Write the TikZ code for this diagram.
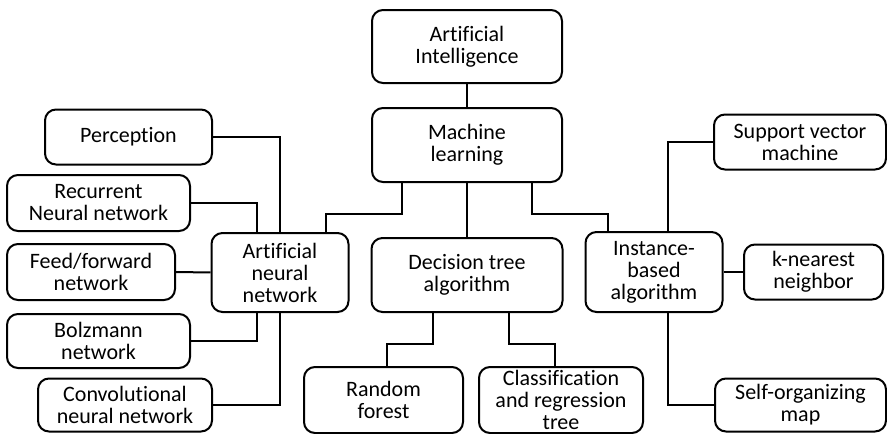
\documentclass[tikz,border=0pt]{standalone}
\usepackage{fontspec}
\setmainfont[Ligatures=NoCommon]{Carlito}
\begin{document}
\begin{tikzpicture}[x=1pt,y=-1pt,
  box/.style={draw, line width=2pt, rounded corners=11pt, align=center,
    inner sep=0pt, font=\fontsize{22}{22}\selectfont},
  link/.style={line width=2pt}]
\useasboundingbox (0,0) rectangle (887,434);
% top of the hierarchy
\node[box, minimum width=190pt, minimum height=73pt] (ai) at (467,46.5) {Artificial\\Intelligence};
\node[box, minimum width=190pt, minimum height=74pt] (ml) at (467,145) {Machine\\learning};
% three families of algorithms
\node[box, minimum width=137pt, minimum height=79pt] (ann) at (280,272.5) {Artificial\\neural\\network};
\node[box, minimum width=191pt, minimum height=74pt] (dt) at (467,275) {Decision tree\\algorithm};
\node[box, minimum width=137pt, minimum height=80pt] (ib) at (654,272) {Instance-\\based\\algorithm};
% neural networks
\node[box, minimum width=167pt, minimum height=55pt] (per) at (128.5,137) {Perception};
\node[box, minimum width=183pt, minimum height=56pt] (rnn) at (98.5,203) {Recurrent\\Neural network};
\node[box, minimum width=168pt, minimum height=56pt] (ff) at (91,272) {Feed/forward\\network};
\node[box, minimum width=183pt, minimum height=54pt] (bz) at (98.5,341) {Bolzmann\\network};
\node[box, minimum width=174pt, minimum height=53pt] (cnn) at (125,405) {Convolutional\\neural network};
% decision trees
\node[box, minimum width=159pt, minimum height=66pt] (rf) at (383.5,400) {Random\\forest};
\node[box, minimum width=164pt, minimum height=66pt] (cart) at (561,400) {Classification\\and regression\\tree};
% instance-based methods
\node[box, minimum width=172pt, minimum height=55pt] (svm) at (800,142) {Support vector\\machine};
\node[box, minimum width=139pt, minimum height=55pt] (knn) at (813.5,272) {k-nearest\\neighbor};
\node[box, minimum width=171pt, minimum height=53pt] (som) at (800.5,405) {Self-organizing\\map};
% connectors
\draw[link] (ai.south) -- (ml.north);
\draw[link] (ml.south) -- (dt.north);
\draw[link] ([xshift=-65pt]ml.south) -- ++(0,31) -| ([xshift=46pt]ann.north);
\draw[link] ([xshift=65pt]ml.south) -- ++(0,31) -| ([xshift=-46pt]ib.north);
\draw[link] (per.east) -| (ann.north);
\draw[link] (rnn.east) -| ([xshift=-23pt]ann.north);
\draw[link] (ff.east) -- (ann.west);
\draw[link] (bz.east) -| ([xshift=-23pt]ann.south);
\draw[link] (cnn.east) -| (ann.south);
\draw[link] ([xshift=-34pt]dt.south) -- ++(0,31) -| ([xshift=3.5pt]rf.north);
\draw[link] ([xshift=42pt]dt.south) -- ++(0,31) -| ([xshift=-6pt]cart.north);
\draw[link] (svm.west) -| ([xshift=14pt]ib.north);
\draw[link] (ib.east) -- (knn.west);
\draw[link] ([xshift=14pt]ib.south) |- (som.west);
\end{tikzpicture}
\end{document}
